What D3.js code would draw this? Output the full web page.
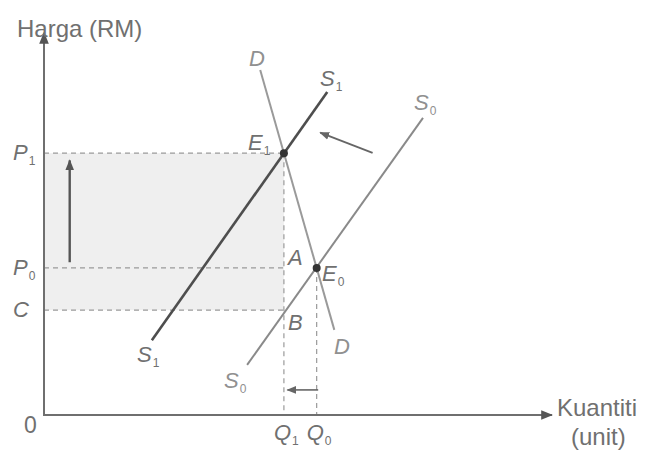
<!DOCTYPE html>
<html>
<head>
<meta charset="utf-8">
<script src="https://cdn.jsdelivr.net/npm/d3@7"></script>
<style>
  html, body { margin: 0; padding: 0; background: #fff; }
  svg { display: block; }
  text { font-family: "Liberation Sans", Arial, sans-serif; }
</style>
</head>
<body>
<svg id="chart" width="650" height="460"></svg>
<script>
// Quantity / price positions in chart units (0..100 on both axes)
const quantities = { Q1: 47.6, Q0: 54.1 };
const prices = { P1: 68.9, P0: 38.7, C: 27.6 };

// Curve segments as [quantity, price] endpoints
const supply1 = [[21.4, 19.7], [56.2, 85.0]];
const supply0 = [[40.3, 13.2], [75.2, 78.2]];
const demand  = [[42.9, 90.8], [57.6, 22.4]];

// Equilibrium points
const equilibria = [
  { name: "E1", q: 47.6, p: 68.9 },
  { name: "E0", q: 54.1, p: 38.7 }
];

const yTickLabels = [
  { base: "P", sub: "1", p: 68.9 },
  { base: "P", sub: "0", p: 38.7 },
  { base: "C", sub: "",  p: 27.6 }
];
const xTickLabels = [
  { base: "Q", sub: "1", q: 47.6 },
  { base: "Q", sub: "0", q: 54.1 }
];

const svg = d3.select("#chart");
const x = d3.scaleLinear().domain([0, 100]).range([44, 548]);
const y = d3.scaleLinear().domain([0, 100]).range([415, 35]);

const axisCol = "#6f6f6f";
const textCol = "#707070";
const dashCol = "#9a9a9a";

const defs = svg.append("defs");
function marker(id, col, size) {
  defs.append("marker")
    .attr("id", id)
    .attr("viewBox", "0 0 10 10")
    .attr("refX", 9).attr("refY", 5)
    .attr("markerWidth", size).attr("markerHeight", size)
    .attr("markerUnits", "userSpaceOnUse")
    .attr("orient", "auto")
    .append("path").attr("d", "M0,1 L10,5 L0,9 Z").attr("fill", col);
}
marker("headAxis", "#555", 12);
marker("headDark", "#555", 11);
marker("headMid", "#666", 10);

// Shaded revenue area between C and P1 up to Q1
svg.append("rect")
  .attr("x", x(0)).attr("y", y(prices.P1))
  .attr("width", x(quantities.Q1) - x(0))
  .attr("height", y(prices.C) - y(prices.P1))
  .attr("fill", "#efefef");

// Dashed guide lines
const dash = "5,4";
const guides = [
  [[0, prices.P1], [quantities.Q1, prices.P1]],
  [[0, prices.P0], [quantities.Q1, prices.P0]],
  [[0, prices.C], [quantities.Q1, prices.C]],
  [[quantities.Q1, prices.P1], [quantities.Q1, 0]],
  [[quantities.Q0, prices.P0], [quantities.Q0, 0]]
];
svg.selectAll("line.guide").data(guides).enter().append("line")
  .attr("class", "guide")
  .attr("x1", d => x(d[0][0])).attr("y1", d => y(d[0][1]))
  .attr("x2", d => x(d[1][0])).attr("y2", d => y(d[1][1]))
  .attr("stroke", dashCol).attr("stroke-width", 1.2)
  .attr("stroke-dasharray", dash);

// Axes
svg.append("line")
  .attr("x1", x(0)).attr("y1", y(0)).attr("x2", x(0)).attr("y2", y(100) - 2)
  .attr("stroke", axisCol).attr("stroke-width", 2)
  .attr("marker-end", "url(#headAxis)");
svg.append("line")
  .attr("x1", x(0) - 1).attr("y1", y(0)).attr("x2", x(100) + 4).attr("y2", y(0))
  .attr("stroke", axisCol).attr("stroke-width", 2)
  .attr("marker-end", "url(#headAxis)");

// Curves
const curveLine = d3.line().x(d => x(d[0])).y(d => y(d[1]));
svg.append("path").attr("d", curveLine(demand))
  .attr("fill", "none").attr("stroke", "#9a9a9a").attr("stroke-width", 2);
svg.append("path").attr("d", curveLine(supply0))
  .attr("fill", "none").attr("stroke", "#8a8a8a").attr("stroke-width", 2);
svg.append("path").attr("d", curveLine(supply1))
  .attr("fill", "none").attr("stroke", "#4e4e4e").attr("stroke-width", 2.6);

// Equilibrium dots
svg.selectAll("circle.eq").data(equilibria).enter().append("circle")
  .attr("class", "eq")
  .attr("cx", d => x(d.q)).attr("cy", d => y(d.p)).attr("r", 4)
  .attr("fill", "#333");

// Arrows: price rise, supply shift, quantity fall
const arrows = [
  { from: [5.1, 40.2], to: [5.1, 67.0], head: "headDark", col: "#555", w: 2.4 },
  { from: [65.2, 69.0], to: [54.8, 74.3], head: "headMid", col: "#666", w: 1.8 },
  { from: [54.4, 6.6], to: [48.3, 6.6], head: "headMid", col: "#666", w: 1.6 }
];
svg.selectAll("line.arrow").data(arrows).enter().append("line")
  .attr("class", "arrow")
  .attr("x1", d => x(d.from[0])).attr("y1", d => y(d.from[1]))
  .attr("x2", d => x(d.to[0])).attr("y2", d => y(d.to[1]))
  .attr("stroke", d => d.col).attr("stroke-width", d => d.w)
  .attr("marker-end", d => `url(#${d.head})`);

// Italic labels with optional subscripts
function label(xp, yp, base, sub, opts = {}) {
  const t = svg.append("text")
    .attr("x", xp).attr("y", yp)
    .attr("font-size", opts.size || 22)
    .attr("fill", opts.col || textCol)
    .attr("text-anchor", opts.anchor || "start");
  t.append("tspan").attr("font-style", "italic").text(base);
  if (sub) {
    t.append("tspan").attr("font-size", 12).attr("dy", 5).attr("dx", 1).text(sub);
  }
  return t;
}

yTickLabels.forEach(d => label(13, y(d.p) + 7, d.base, d.sub));
xTickLabels.forEach(d => label(x(d.q) - 10, 440, d.base, d.sub));

label(249, 66, "D", "", { col: "#909090" });
label(320, 86, "S", "1");
label(414, 110, "S", "0", { col: "#909090" });
label(248, 150, "E", "1");
label(288, 265, "A", "");
label(322, 281, "E", "0");
label(288, 330, "B", "");
label(334, 354, "D", "", { col: "#909090" });
label(137, 362, "S", "1");
label(224, 388, "S", "0", { col: "#909090" });

// Axis titles and origin
svg.append("text").attr("x", 17).attr("y", 37)
  .attr("font-size", 24).attr("fill", textCol).text("Harga (RM)");
svg.append("text").attr("x", 24).attr("y", 433)
  .attr("font-size", 23).attr("fill", textCol).text("0");
svg.append("text").attr("x", 557).attr("y", 416)
  .attr("font-size", 24).attr("fill", textCol).text("Kuantiti");
svg.append("text").attr("x", 571).attr("y", 445)
  .attr("font-size", 24).attr("fill", textCol).text("(unit)");
</script>
</body>
</html>
